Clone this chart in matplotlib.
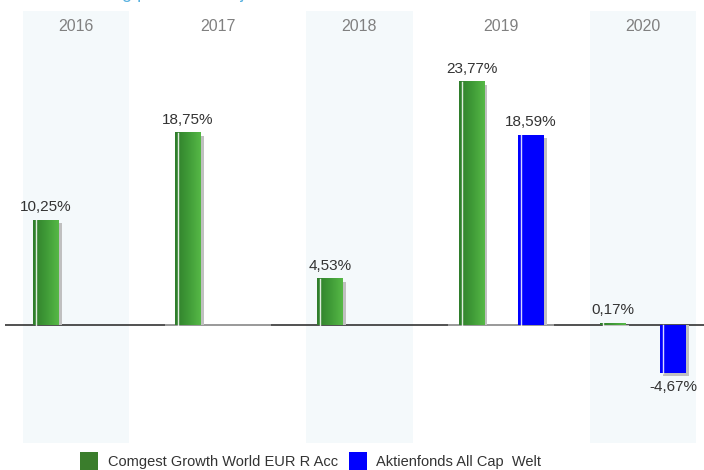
import matplotlib
matplotlib.use("Agg")
import matplotlib.pyplot as plt
import numpy as np
from matplotlib.colors import LinearSegmentedColormap
from matplotlib.patches import Rectangle

# ── Données ───────────────────────────────────────────────────────────
years = ["2016", "2017", "2018", "2019", "2020"]
comgest = [10.25, 18.75, 4.53, 23.77, 0.17]
aktien = [None, None, None, 18.59, -4.67]
series_names = ["Comgest Growth World EUR R Acc", "Aktienfonds All Cap  Welt"]

GREEN_DARK = "#2f7d2b"
GREEN_LIGHT = "#56b846"
BLUE = "#0000ff"
SHADOW = "#c0c0c0"
BAND = "#f4f9fb"

plt.rcParams["font.family"] = ["Liberation Sans", "DejaVu Sans"]

W, H = 704, 470
fig = plt.figure(figsize=(W / 100, H / 100), dpi=100)

# zone de tracé en pixels (l'axe dépasse un peu à droite)
left, right, top, bottom = 5, 714, 11, 443
ax = fig.add_axes([left / W, (H - bottom) / H, (right - left) / W, (bottom - top) / H])
ax.axis("off")

px_x = 1.0 / (right - left) * len(years)       # un pixel en unités x
px_y = (30.66 + 11.52) / (bottom - top)         # un pixel en unités y

band_half = 0.375
bar_w = 0.183
offset = 0.21

# ── Bandes alternées ──────────────────────────────────────────────────
for i, yr in enumerate(years):
    if i % 2 == 0:
        ax.axvspan(i - band_half, i + band_half, color=BAND, zorder=0, lw=0)
    ax.text(i, 0.963, yr, transform=ax.get_xaxis_transform(), ha="center", va="center",
            fontsize=11.5, color="#808080")

# ── Ligne zéro ────────────────────────────────────────────────────────
ax.axhline(0, color="#333333", lw=1.2, zorder=1)
for i in range(len(years)):
    if i % 2 == 1:
        ax.hlines(0, i - band_half, i + band_half, color="#aaaaaa", lw=1.2, zorder=1.5)

green_cmap = LinearSegmentedColormap.from_list("g", [GREEN_DARK, "#3f9a37", GREEN_LIGHT])
grad = np.linspace(0, 1, 64).reshape(1, -1)


def draw_bar(xc, v, kind):
    x0, x1 = xc - bar_w / 2, xc + bar_w / 2
    # ombre
    sh_top = v - 3 * px_y if v > 0 else 0
    sh_bot = 0 if v > 0 else v - 3 * px_y
    ax.add_patch(Rectangle((x0 + 3 * px_x, sh_bot), bar_w, sh_top - sh_bot,
                           color=SHADOW, lw=0, zorder=2))
    if kind == "green":
        ax.imshow(grad, cmap=green_cmap, aspect="auto", extent=[x0, x1, min(0, v), max(0, v)],
                  zorder=3, interpolation="bilinear")
    else:
        ax.add_patch(Rectangle((x0, min(0, v)), bar_w, abs(v), color=BLUE, lw=0, zorder=3))
    # reflet blanc à gauche
    ax.plot([x0 + 3 * px_x] * 2, [0, v], color="white", lw=1, alpha=0.85, zorder=4)
    label = f"{v:.2f}%".replace(".", ",")
    if v >= 0:
        ax.text(xc, v + 13 * px_y, label, ha="center", va="center", fontsize=11,
                color="#333333", zorder=5)
    else:
        ax.text(xc, v - 14 * px_y, label, ha="center", va="center", fontsize=11,
                color="#333333", zorder=5)


for i in range(len(years)):
    if comgest[i] is not None:
        draw_bar(i - offset, comgest[i], "green")
    if aktien[i] is not None:
        draw_bar(i + offset, aktien[i], "blue")

ax.set_xlim(-0.5, len(years) - 0.5)
ax.set_ylim(-11.52, 30.66)

# ── Légende (positions en pixels) ─────────────────────────────────────
def fig_rect(x, y, w, h, color):
    fig.add_artist(Rectangle((x / W, 1 - (y + h) / H), w / W, h / H, color=color,
                             transform=fig.transFigure, lw=0))

fig_rect(80, 452, 18, 18, "#3a7d2c")
fig.text(108 / W, 1 - 462 / H, series_names[0], ha="left", va="center", fontsize=10.5, color="#333333")
fig_rect(349, 452, 18, 18, BLUE)
fig.text(376 / W, 1 - 462 / H, series_names[1], ha="left", va="center", fontsize=10.5, color="#333333")

# titre coupé en haut (seul le bas des lettres est visible)
fig.text(0, 1 + 1.5 / H, "Wertentwicklung pro Kalenderjahr", ha="left", va="baseline",
         fontsize=13, color="#5ab2e0")

fig.savefig("out.png", dpi=100)
